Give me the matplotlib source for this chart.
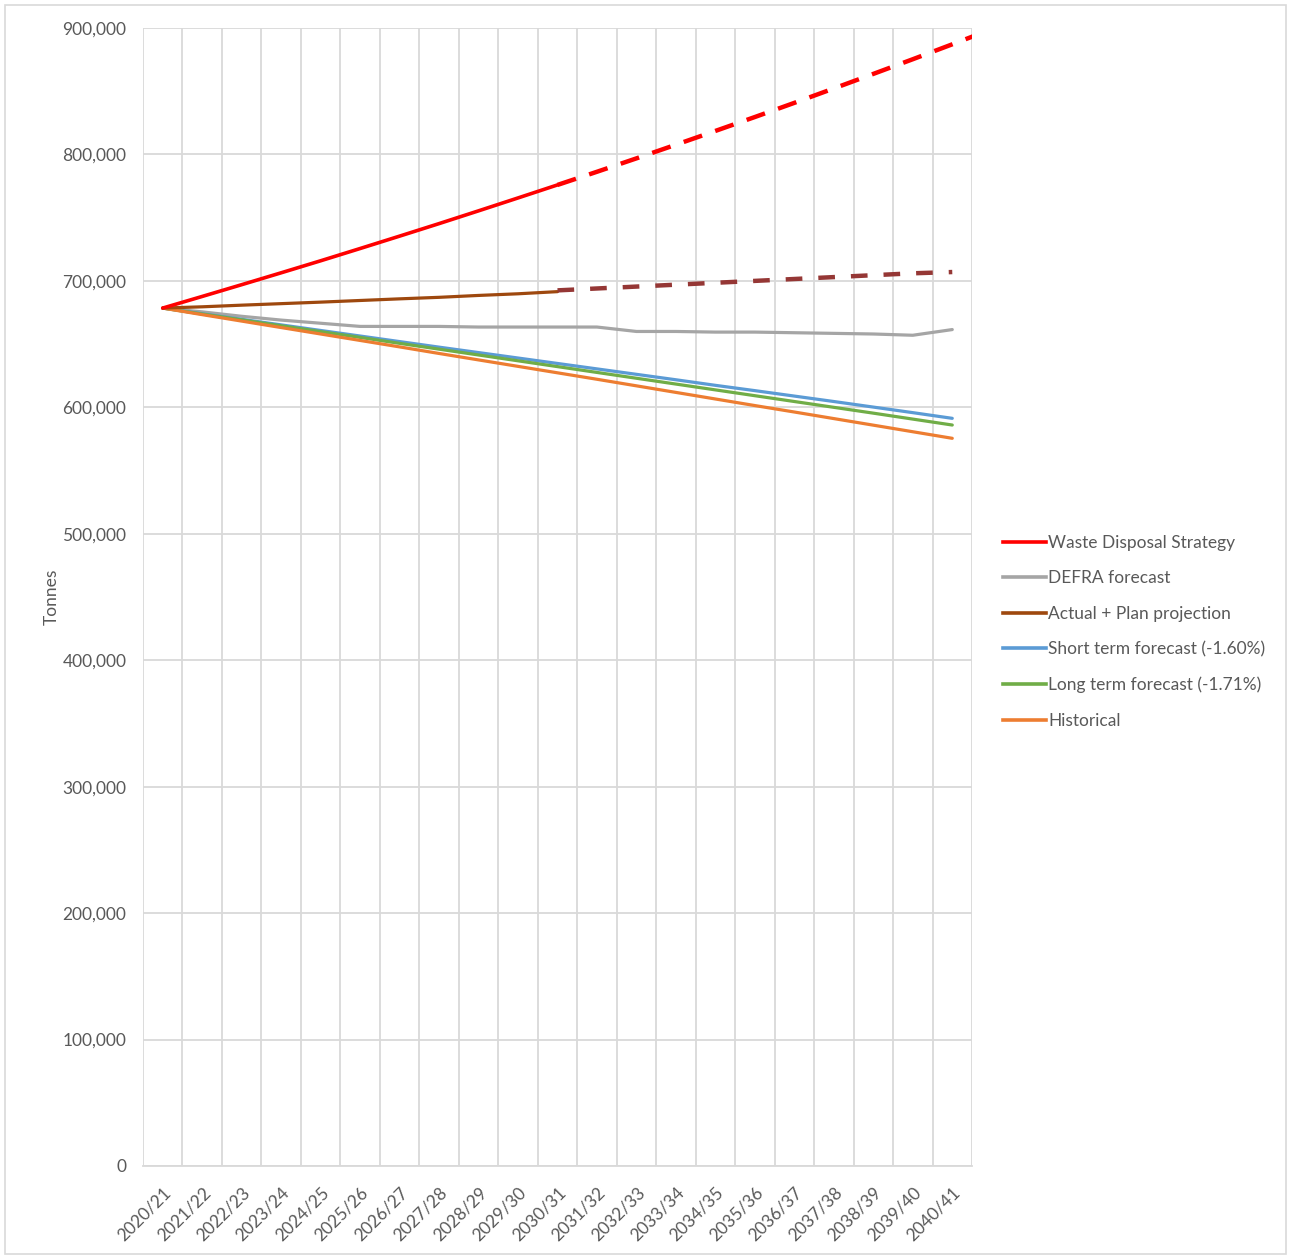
import matplotlib.pyplot as plt
from matplotlib.patches import Rectangle
from matplotlib.lines import Line2D
from matplotlib.ticker import FuncFormatter, FixedLocator

plt.rcParams['font.family'] = ['Lato', 'DejaVu Sans']
plt.rcParams['lines.scale_dashes'] = False

years = ['2020/21', '2021/22', '2022/23', '2023/24', '2024/25', '2025/26', '2026/27',
         '2027/28', '2028/29', '2029/30', '2030/31', '2031/32', '2032/33', '2033/34',
         '2034/35', '2035/36', '2036/37', '2037/38', '2038/39', '2039/40', '2040/41']

# Waste Disposal Strategy (last value 2041/42 gets clipped at the plot edge)
wds = [678500, 687700, 697000, 706400, 715900, 725600, 735400, 745300, 755400, 765600,
       775900, 786300, 796900, 807700, 818600, 829600, 840800, 852200, 863700, 875300,
       887100, 899100]
defra = [678500, 675500, 672000, 669000, 666500, 664000, 664000, 664000, 663500, 663500,
         663500, 663500, 660000, 660000, 659500, 659500, 659000, 658500, 658000, 657000,
         661500]
actual_plan = [678500, 679500, 680800, 682000, 683200, 684500, 685800, 687000, 688500,
               689800, 691500]
plan_proj = [692500, 694000, 695500, 697000, 698500, 700000, 701500, 703000, 704500,
             706000, 707000]
short_term = [678500, 674000, 669600, 665200, 660800, 656400, 652000, 647600, 643300, 639000,
              634700, 630400, 626100, 621800, 617400, 613200, 608900, 604600, 600200, 595800,
              591300]
long_term = [678500, 673800, 669200, 664500, 659900, 655300, 650600, 646000, 641400, 636800,
             632200, 627600, 623000, 618400, 613800, 609200, 604600, 600000, 595400, 590700,
             586000]
historical = [678500, 673300, 668200, 663100, 658000, 652900, 647800, 642600, 637500, 632400,
              627300, 622200, 617000, 611800, 606600, 601400, 596300, 591100, 585900, 580700,
              575500]

RED = '#FF0000'
GREY = '#A5A5A5'
BROWN = '#9E480E'
BROWN_D = '#953735'
BLUE = '#5B9BD5'
GREEN = '#70AD47'
ORANGE = '#ED7D31'
TXT = '#595959'
GRID = '#D9D9D9'
FS = 12.5

fig = plt.figure(figsize=(12.9, 12.57), dpi=100)
fig.patches.append(Rectangle((5 / 1290, 3 / 1257), 1281 / 1290, 1249 / 1257,
                             transform=fig.transFigure, fill=False, ec=GRID, lw=1.2))
ax = fig.add_axes([143 / 1290, 1 - 1166 / 1257, (972 - 143) / 1290, (1166 - 28) / 1257])

x = list(range(len(years)))
ax.plot(x, defra, color=GREY, lw=2.3, solid_capstyle='round')
ax.plot(x, short_term, color=BLUE, lw=2.3, solid_capstyle='round')
ax.plot(x, long_term, color=GREEN, lw=2.3, solid_capstyle='round')
ax.plot(x, historical, color=ORANGE, lw=2.3, solid_capstyle='round')
ax.plot(x[:11], actual_plan, color=BROWN, lw=2.3, solid_capstyle='round')
ax.plot(x[10:], plan_proj, color=BROWN_D, lw=3.2, dashes=(12, 11.5))
ax.plot(x[:11], wds[:11], color=RED, lw=2.6, solid_capstyle='round')
ax.plot(list(range(10, len(wds))), wds[10:], color=RED, lw=3.2, dashes=(14, 10))

ax.set_xlim(-0.5, len(years) - 0.5)
ax.set_ylim(0, 900000)
ax.set_yticks(range(0, 900001, 100000))
ax.yaxis.set_major_formatter(FuncFormatter(lambda v, p: f'{int(v):,}'))
ax.set_xticks(x)
ax.set_xticklabels(years, rotation=45, ha='right', va='top', rotation_mode='anchor')
ax.xaxis.set_minor_locator(FixedLocator([i - 0.5 for i in range(len(years) + 1)]))
ax.grid(True, which='minor', axis='x', color=GRID, lw=1.3)
ax.grid(True, which='major', axis='y', color=GRID, lw=1.3)
ax.set_axisbelow(True)
ax.tick_params(axis='both', which='both', length=0, colors=TXT, labelsize=FS)
ax.tick_params(axis='y', pad=12)
ax.tick_params(axis='x', pad=13)
for s in ['top', 'right', 'left']:
    ax.spines[s].set_visible(False)
ax.spines['bottom'].set_color(GRID)
ax.spines['bottom'].set_linewidth(1.3)
ax.set_ylabel('Tonnes', color=TXT, fontsize=FS, labelpad=2)

handles = [Line2D([], [], color=RED, lw=2.6),
           Line2D([], [], color=GREY, lw=2.6),
           Line2D([], [], color=BROWN, lw=2.6),
           Line2D([], [], color=BLUE, lw=2.6),
           Line2D([], [], color=GREEN, lw=2.6),
           Line2D([], [], color=ORANGE, lw=2.6)]
labels = ['Waste Disposal Strategy', 'DEFRA forecast', 'Actual + Plan projection',
          'Short term forecast (-1.60%)', 'Long term forecast (-1.71%)', 'Historical']
leg = fig.legend(handles, labels, loc='upper left', bbox_to_anchor=(1003 / 1290, 1 - 535 / 1257),
                 frameon=False, fontsize=FS, handlelength=2.45, handletextpad=0.15,
                 labelspacing=1.12, borderpad=0, borderaxespad=0)
for t in leg.get_texts():
    t.set_color(TXT)

fig.savefig('out.png', dpi=100)
